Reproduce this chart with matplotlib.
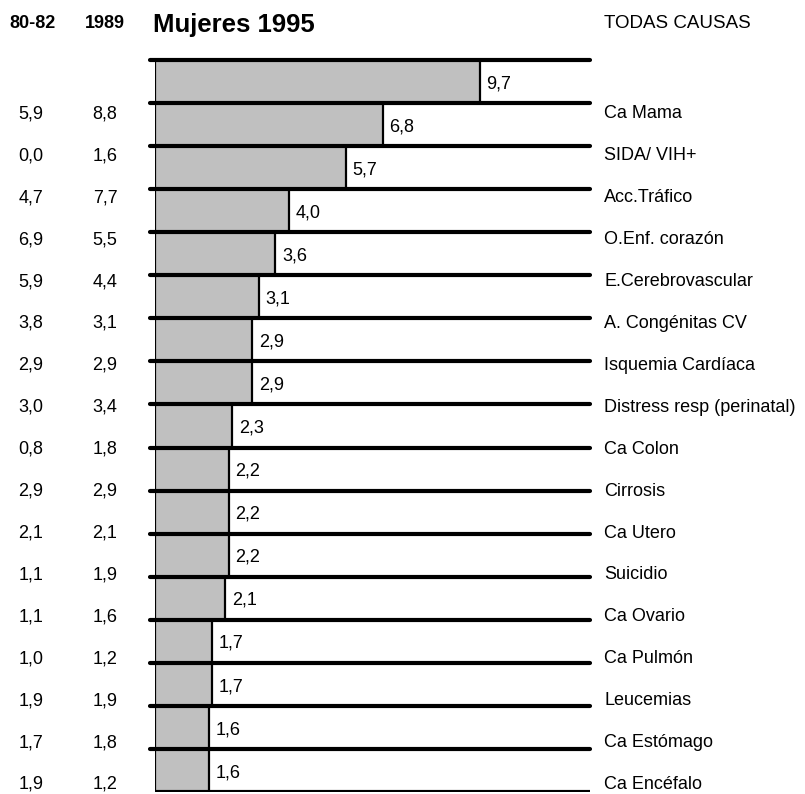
import numpy as np
import matplotlib.pyplot as plt

plt.rcParams['font.family'] = ['Liberation Sans', 'DejaVu Sans']

# 1995 values (bars), top to bottom
values_1995 = [9.7, 6.8, 5.7, 4.0, 3.6, 3.1, 2.9, 2.9, 2.3, 2.2, 2.2, 2.2, 2.1, 1.7, 1.7, 1.6, 1.6]

causes = ["Ca Mama", "SIDA/ VIH+", "Acc.Tráfico", "O.Enf. corazón", "E.Cerebrovascular",
          "A. Congénitas CV", "Isquemia Cardíaca", "Distress resp (perinatal)", "Ca Colon",
          "Cirrosis", "Ca Utero", "Suicidio", "Ca Ovario", "Ca Pulmón", "Leucemias",
          "Ca Estómago", "Ca Encéfalo"]
vals_8082 = ["5,9", "0,0", "4,7", "6,9", "5,9", "3,8", "2,9", "3,0", "0,8", "2,9", "2,1",
             "1,1", "1,1", "1,0", "1,9", "1,7", "1,9"]
vals_1989 = ["8,8", "1,6", "7,7", "5,5", "4,4", "3,1", "2,9", "3,4", "1,8", "2,9", "2,1",
             "1,9", "1,6", "1,2", "1,9", "1,8", "1,2"]

W, H = 805, 794
fig = plt.figure(figsize=(W / 100, H / 100), dpi=100)

# axes in pixel terms: x 155..590, y 60..792
ax = fig.add_axes([155 / W, 1 - 792 / H, (590 - 155) / W, (792 - 60) / H])
xmax = 13.0
n = len(values_1995)
y = np.arange(n)
v = np.array(values_1995)

ax.barh(y, v, height=1.0, color='#c0c0c0', edgecolor='none', zorder=1)
ax.barh(y, xmax - v, left=v, height=1.0, color='white', edgecolor='none', zorder=2)
ax.vlines(v, y - 0.5, y + 0.5, color='black', linewidth=1.6, zorder=3)
ax.hlines(np.arange(n) - 0.5, -0.15, xmax, color='black', linewidth=3, capstyle='round',
          zorder=4, clip_on=False)
ax.hlines(n - 0.5, -0.15, xmax, color='black', linewidth=3, zorder=4)
ax.vlines(0, -0.5, n - 0.5, color='black', linewidth=1.6, zorder=4)

for yi, vi in zip(y, v):
    ax.text(vi + 0.2, yi + 0.05, f"{vi:.1f}".replace('.', ','), fontsize=13, va='center', ha='left', zorder=5)

ax.set_xlim(0, xmax)
ax.set_ylim(n - 0.5, -0.5)
ax.axis('off')

# headers
fig.text(33 / W, 1 - 24 / H, "80-82", fontsize=13, fontweight='bold', ha='center', va='center')
fig.text(105 / W, 1 - 24 / H, "1989", fontsize=13, fontweight='bold', ha='center', va='center')
fig.text(153 / W, 1 - 25 / H, "Mujeres 1995", fontsize=18.5, fontweight='bold', ha='left', va='center')
fig.text(604 / W, 1 - 24 / H, "TODAS CAUSAS", fontsize=13.5, ha='left', va='center')

# text columns (they run on their own spacing)
for k, (c, a, b) in enumerate(zip(causes, vals_8082, vals_1989)):
    yp = 1 - (114 + 41.9 * k) / H
    fig.text(604 / W, yp, c, fontsize=13, ha='left', va='center')
    fig.text(31 / W, yp, a, fontsize=13, ha='center', va='center')
    fig.text(105 / W, yp, b, fontsize=13, ha='center', va='center')

fig.savefig('out.png', dpi=100)
